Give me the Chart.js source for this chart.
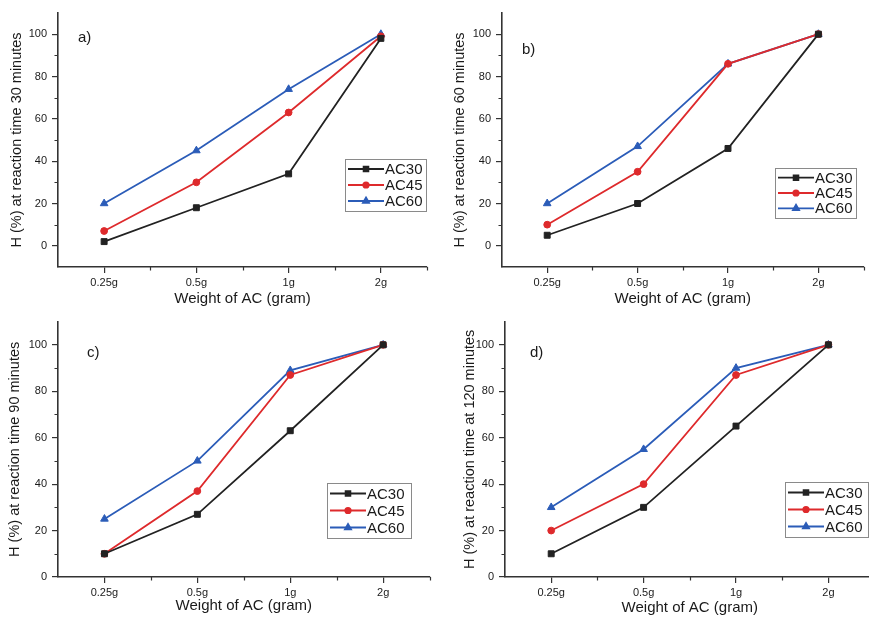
<!DOCTYPE html>
<html><head><meta charset="utf-8">
<script src="https://cdn.jsdelivr.net/npm/chart.js@4/dist/chart.umd.min.js"></script>
<style>
html,body{margin:0;padding:0;background:#fff;width:869px;height:617px;overflow:hidden;position:relative}
canvas{position:absolute}
</style></head><body>
<canvas id="pa" width="435" height="310" style="left:0;top:0"></canvas>
<canvas id="pb" width="434" height="310" style="left:435px;top:0"></canvas>
<canvas id="pc" width="435" height="307" style="left:0;top:310px"></canvas>
<canvas id="pd" width="445" height="307" style="left:435px;top:310px"></canvas>
<script>
// ---- data ----
const categories = ['0.25g', '0.5g', '1g', '2g'];
const seriesNames = ['AC30', 'AC45', 'AC60'];
const yTickValues = [0, 20, 40, 60, 80, 100];

const a_AC30 = [2, 18, 34, 98];
const a_AC45 = [7, 30, 63, 99];
const a_AC60 = [20, 45, 74, 100];

const b_AC30 = [5, 20, 46, 100];
const b_AC45 = [10, 35, 86, 100];
const b_AC60 = [20, 47, 86, 100];

const c_AC30 = [10, 27, 63, 100];
const c_AC45 = [10, 37, 87, 100];
const c_AC60 = [25, 50, 89, 100];

const d_AC30 = [10, 30, 65, 100];
const d_AC45 = [20, 40, 87, 100];
const d_AC60 = [30, 55, 90, 100];

const xTitle = 'Weight of AC (gram)';
const yTitles = [
  'H (%) at reaction time 30 minutes',
  'H (%) at reaction time 60 minutes',
  'H (%) at reaction time 90 minutes',
  'H (%) at reaction time at 120 minutes'
];
const panelLabels = ['a)', 'b)', 'c)', 'd)'];

// ---- styles ----
const FONT = '"Liberation Sans", Arial, sans-serif';
const seriesStyle = [
  {color: '#222222', pointStyle: 'rect', radius: 4.2},
  {color: '#de2a2c', pointStyle: 'circle', radius: 3.4},
  {color: '#2b5cb8', pointStyle: 'triangle', radius: 4.4}
];

// layout per panel (canvas-relative)
const layouts = [
  {id: 'pa', L: 58, R: 427, T: 13, B: 267, yMin: -10, yMax: 110, yTitlePad: 8, xTitlePad: 2,
   legend: [345, 159, 81, 52], label: [78, 38]},
  {id: 'pb', L: 67, R: 433, T: 13, B: 267, yMin: -10, yMax: 110, yTitlePad: 16, xTitlePad: 2,
   legend: [340, 168, 81, 50], label: [87, 50]},
  {id: 'pc', L: 58, R: 430, T: 10, B: 267, yMin: 0, yMax: 110, yTitlePad: 6, xTitlePad: 2,
   legend: [327, 173, 84, 55], label: [87, 43]},
  {id: 'pd', L: 70, R: 442, T: 10, B: 267, yMin: 0, yMax: 110, yTitlePad: 26, xTitlePad: 0,
   legend: [350, 172, 83, 55], label: [95, 43]}
];
const panelData = [
  [a_AC30, a_AC45, a_AC60],
  [b_AC30, b_AC45, b_AC60],
  [c_AC30, c_AC45, c_AC60],
  [d_AC30, d_AC45, d_AC60]
];

const minorTicks = {
  id: 'minorTicks',
  afterDraw(chart) {
    const ctx = chart.ctx, xs = chart.scales.x, ys = chart.scales.y;
    ctx.save();
    ctx.strokeStyle = '#333'; ctx.lineWidth = 1.2;
    ctx.beginPath();
    for (let i = 1; i <= categories.length; i++) {
      const px = Math.round(xs.getPixelForValue(i - 0.5)) + 0.5;
      ctx.moveTo(px, xs.top); ctx.lineTo(px, xs.top + 3.5);
    }
    for (let v = Math.ceil(ys.min / 10) * 10; v <= ys.max; v += 10) {
      if (v % 20 === 0 || v === ys.min || v === ys.max) continue;
      const py = Math.round(ys.getPixelForValue(v)) + 0.5;
      ctx.moveTo(ys.right, py); ctx.lineTo(ys.right - 3.5, py);
    }
    ctx.stroke();
    ctx.restore();
  }
};

const boxLegend = {
  id: 'boxLegend',
  afterDraw(chart, args, opts) {
    const ctx = chart.ctx;
    const [x, y, w, h] = opts.box;
    ctx.save();
    ctx.fillStyle = '#fff';
    ctx.fillRect(x, y, w, h);
    ctx.strokeStyle = '#8a8a8a'; ctx.lineWidth = 1;
    ctx.strokeRect(x + 0.5, y + 0.5, w, h);
    const rowH = (h - 4) / chart.data.datasets.length;
    chart.data.datasets.forEach((ds, i) => {
      const cy = y + 2 + rowH * (i + 0.5);
      const x0 = x + 3, x1 = x + 39;
      ctx.strokeStyle = ds.borderColor; ctx.lineWidth = 1.8;
      ctx.beginPath(); ctx.moveTo(x0, cy); ctx.lineTo(x1, cy); ctx.stroke();
      ctx.fillStyle = ds.pointBackgroundColor;
      ctx.strokeStyle = ds.borderColor;
      Chart.helpers.drawPoint(ctx, {pointStyle: ds.pointStyle, radius: ds.pointRadius * 0.8, rotation: 0, borderWidth: 1}, (x0 + x1) / 2, cy);
      ctx.fillStyle = '#1a1a1a';
      ctx.font = '15px ' + FONT;
      ctx.textBaseline = 'middle'; ctx.textAlign = 'left';
      ctx.fillText(ds.label, x1 + 1, cy + 1);
    });
    ctx.restore();
  }
};

const panelLabel = {
  id: 'panelLabel',
  afterDraw(chart, args, opts) {
    const ctx = chart.ctx;
    ctx.save();
    ctx.fillStyle = '#1a1a1a';
    ctx.font = '15px ' + FONT;
    ctx.textBaseline = 'middle'; ctx.textAlign = 'left';
    ctx.fillText(opts.text, opts.pos[0], opts.pos[1]);
    ctx.restore();
  }
};

layouts.forEach((lay, p) => {
  const canvas = document.getElementById(lay.id);
  const W = canvas.width, H = canvas.height;
  const gridOpts = {display: true, drawOnChartArea: false, drawTicks: true, tickLength: 6, color: '#333', lineWidth: 1.2};
  const borderOpts = {display: true, color: '#333', width: 1.6};
  new Chart(canvas, {
    type: 'line',
    data: {
      labels: categories,
      datasets: seriesNames.map((name, i) => ({
        label: name,
        data: panelData[p][i],
        borderColor: seriesStyle[i].color,
        backgroundColor: seriesStyle[i].color,
        pointBackgroundColor: seriesStyle[i].color,
        pointBorderColor: seriesStyle[i].color,
        pointStyle: seriesStyle[i].pointStyle,
        pointRadius: seriesStyle[i].radius,
        pointBorderWidth: 1,
        borderWidth: 1.8,
        tension: 0,
        fill: false
      }))
    },
    options: {
      responsive: false,
      animation: false,
      devicePixelRatio: 1,
      layout: {padding: {left: 0, top: lay.T, right: W - lay.R, bottom: 0}},
      plugins: {
        legend: {display: false},
        tooltip: {enabled: false},
        boxLegend: {box: lay.legend},
        panelLabel: {text: panelLabels[p], pos: lay.label}
      },
      scales: {
        x: {
          type: 'category', offset: true,
          grid: gridOpts, border: borderOpts,
          ticks: {color: '#1a1a1a', font: {size: 11, family: FONT}, padding: 3, maxRotation: 0, autoSkip: false},
          title: {display: true, text: xTitle, color: '#1a1a1a', font: {size: 15, family: FONT}, padding: {top: 0, bottom: lay.xTitlePad}},
          afterFit(s) { s.height = H - lay.B; }
        },
        y: {
          type: 'linear', min: lay.yMin, max: lay.yMax,
          afterBuildTicks(s) { s.ticks = yTickValues.filter(v => v >= lay.yMin && v <= lay.yMax).map(v => ({value: v})); },
          grid: gridOpts, border: borderOpts,
          ticks: {color: '#1a1a1a', font: {size: 11, family: FONT}, padding: 5},
          title: {display: true, text: yTitles[p], color: '#1a1a1a', font: {size: 14.5, family: FONT}, padding: lay.yTitlePad},
          afterFit(s) { s.width = lay.L; }
        }
      }
    },
    plugins: [minorTicks, boxLegend, panelLabel]
  });
});
</script>
</body></html>
